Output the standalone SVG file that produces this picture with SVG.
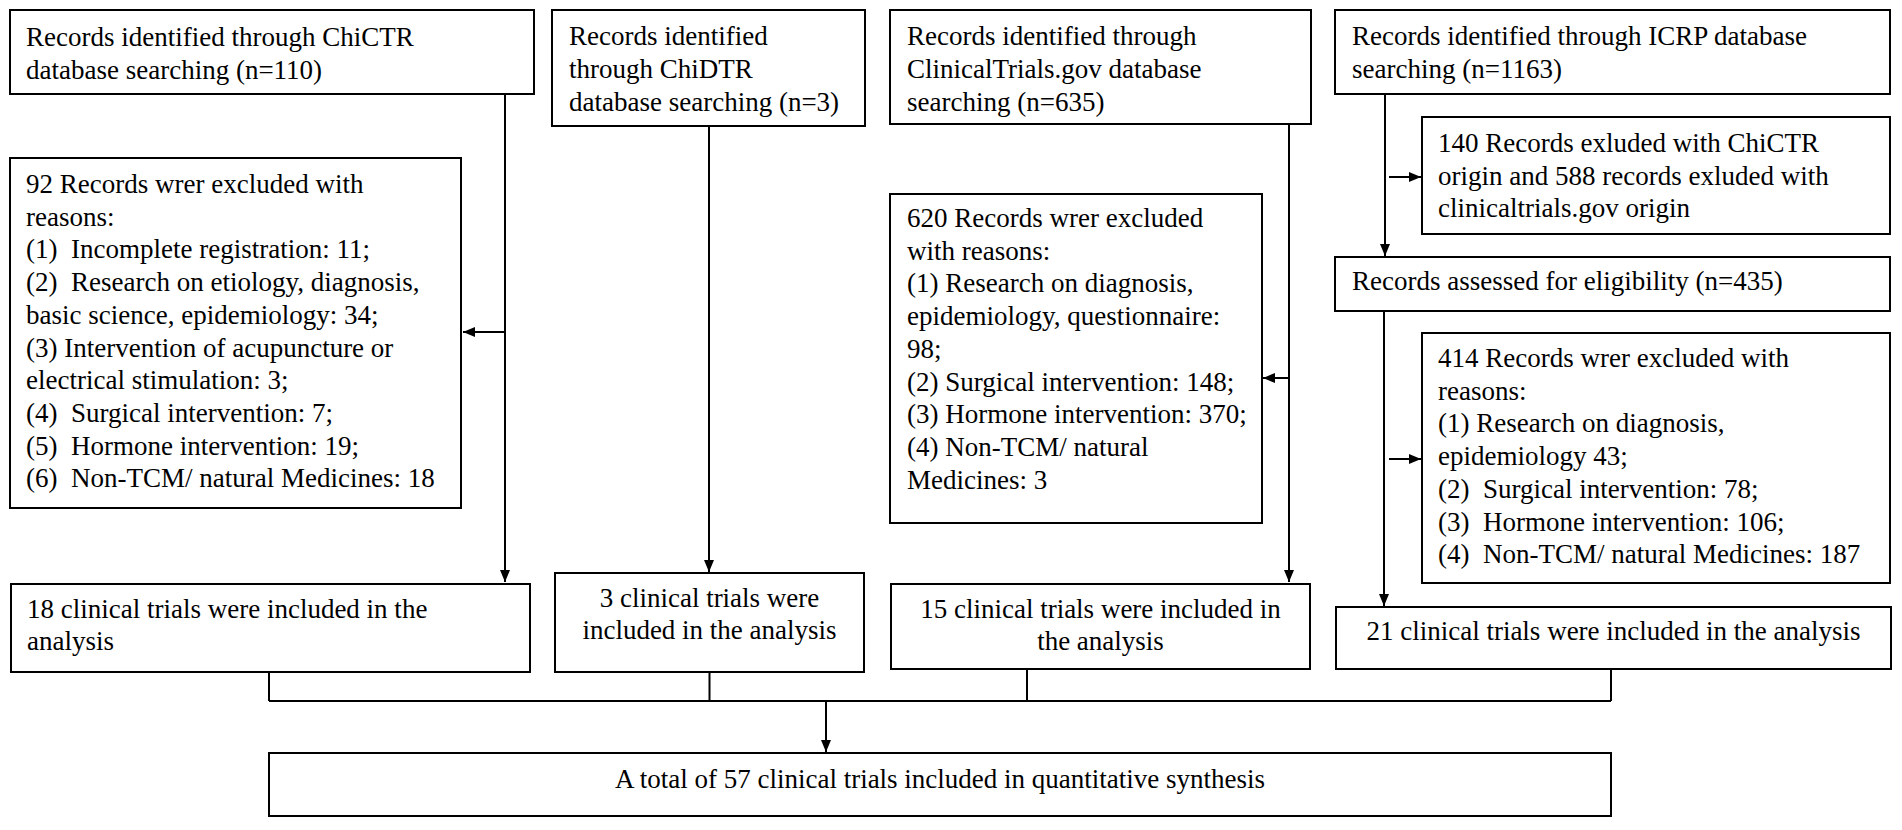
<svg xmlns="http://www.w3.org/2000/svg" width="1902" height="830" viewBox="0 0 1902 830">
<style>
.box{fill:#fff;stroke:#000;stroke-width:2}
.t{font-family:"Liberation Serif","Times New Roman",serif;font-size:27px;fill:#000}
.c{text-anchor:middle}
.ln{fill:none;stroke:#000;stroke-width:2}
</style>
<defs>
<marker id="ah" markerUnits="userSpaceOnUse" markerWidth="13" markerHeight="11" refX="12" refY="5" orient="auto">
<path d="M0,0 L12,5 L0,10 z" fill="#000"/>
</marker>
</defs>
<rect width="1902" height="830" fill="#fff"/>
<g id="connectors">
<path class="ln" d="M505,94 V582" marker-end="url(#ah)"/>
<path class="ln" d="M505,332 H463" marker-end="url(#ah)"/>
<path class="ln" d="M709,126 V572" marker-end="url(#ah)"/>
<path class="ln" d="M1289,124 V582" marker-end="url(#ah)"/>
<path class="ln" d="M1289,378 H1263" marker-end="url(#ah)"/>
<path class="ln" d="M1385,94 V256" marker-end="url(#ah)"/>
<path class="ln" d="M1389,177 H1421" marker-end="url(#ah)"/>
<path class="ln" d="M1384,311 V606" marker-end="url(#ah)"/>
<path class="ln" d="M1389,459 H1421" marker-end="url(#ah)"/>
<path class="ln" d="M269,672 V701 M709.5,672 V701 M1027,669 V701 M1611,669 V701 M269,701 H1611"/>
<path class="ln" d="M826,701 V752" marker-end="url(#ah)"/>
</g>
<g id="chictr">
<rect class="box" x="10" y="10" width="524" height="84"/>
<text class="t"><tspan x="26" y="46">Records identified through ChiCTR</tspan><tspan x="26" y="79">database searching (n=110)</tspan></text>
</g>
<g id="chidtr">
<rect class="box" x="552" y="10" width="313" height="116"/>
<text class="t"><tspan x="569" y="45">Records identified</tspan><tspan x="569" y="78">through ChiDTR</tspan><tspan x="569" y="111">database searching (n=3)</tspan></text>
</g>
<g id="clinicaltrials">
<rect class="box" x="890" y="10" width="421" height="114"/>
<text class="t"><tspan x="907" y="45">Records identified through</tspan><tspan x="907" y="78">ClinicalTrials.gov database</tspan><tspan x="907" y="111">searching (n=635)</tspan></text>
</g>
<g id="icrp">
<rect class="box" x="1335" y="10" width="555" height="84"/>
<text class="t"><tspan x="1352" y="45">Records identified through ICRP database</tspan><tspan x="1352" y="78">searching (n=1163)</tspan></text>
</g>
<g id="excl-chictr">
<rect class="box" x="10" y="158" width="451" height="350"/>
<text class="t" xml:space="preserve"><tspan x="26" y="193">92 Records wrer excluded with</tspan><tspan x="26" y="225.7">reasons:</tspan><tspan x="26" y="258.4">(1)  Incomplete registration: 11;</tspan><tspan x="26" y="291.1">(2)  Research on etiology, diagnosis,</tspan><tspan x="26" y="323.8">basic science, epidemiology: 34;</tspan><tspan x="26" y="356.5">(3) Intervention of acupuncture or</tspan><tspan x="26" y="389.2">electrical stimulation: 3;</tspan><tspan x="26" y="421.9">(4)  Surgical intervention: 7;</tspan><tspan x="26" y="454.6">(5)  Hormone intervention: 19;</tspan><tspan x="26" y="487.3">(6)  Non-TCM/ natural Medicines: 18</tspan></text>
</g>
<g id="excl-clinicaltrials">
<rect class="box" x="890" y="194" width="372" height="329"/>
<text class="t"><tspan x="907" y="227">620 Records wrer excluded</tspan><tspan x="907" y="259.7">with reasons:</tspan><tspan x="907" y="292.4">(1) Research on diagnosis,</tspan><tspan x="907" y="325.1">epidemiology, questionnaire:</tspan><tspan x="907" y="357.8">98;</tspan><tspan x="907" y="390.5">(2) Surgical intervention: 148;</tspan><tspan x="907" y="423.2">(3) Hormone intervention: 370;</tspan><tspan x="907" y="455.9">(4) Non-TCM/ natural</tspan><tspan x="907" y="488.6">Medicines: 3</tspan></text>
</g>
<g id="excl-origin">
<rect class="box" x="1422" y="117" width="468" height="117"/>
<text class="t"><tspan x="1438" y="152">140 Records exluded with ChiCTR</tspan><tspan x="1438" y="184.7">origin and 588 records exluded with</tspan><tspan x="1438" y="217.4">clinicaltrials.gov origin</tspan></text>
</g>
<g id="assessed">
<rect class="box" x="1335" y="257" width="555" height="54"/>
<text class="t"><tspan x="1352" y="290">Records assessed for eligibility (n=435)</tspan></text>
</g>
<g id="excl-icrp">
<rect class="box" x="1422" y="333" width="468" height="250"/>
<text class="t" xml:space="preserve"><tspan x="1438" y="367">414 Records wrer excluded with</tspan><tspan x="1438" y="399.7">reasons:</tspan><tspan x="1438" y="432.4">(1) Research on diagnosis,</tspan><tspan x="1438" y="465.1">epidemiology 43;</tspan><tspan x="1438" y="497.8">(2)  Surgical intervention: 78;</tspan><tspan x="1438" y="530.5">(3)  Hormone intervention: 106;</tspan><tspan x="1438" y="563.2">(4)  Non-TCM/ natural Medicines: 187</tspan></text>
</g>
<g id="incl-chictr">
<rect class="box" x="11" y="584" width="519" height="88"/>
<text class="t"><tspan x="27" y="618">18 clinical trials were included in the</tspan><tspan x="27" y="650">analysis</tspan></text>
</g>
<g id="incl-chidtr">
<rect class="box" x="555" y="573" width="309" height="99"/>
<text class="t c"><tspan x="709.5" y="607">3 clinical trials were</tspan><tspan x="709.5" y="639">included in the analysis</tspan></text>
</g>
<g id="incl-clinicaltrials">
<rect class="box" x="891" y="584" width="419" height="85"/>
<text class="t c"><tspan x="1100.5" y="618">15 clinical trials were included in</tspan><tspan x="1100.5" y="650">the analysis</tspan></text>
</g>
<g id="incl-icrp">
<rect class="box" x="1336" y="607" width="555" height="62"/>
<text class="t c"><tspan x="1613.5" y="640">21 clinical trials were included in the analysis</tspan></text>
</g>
<g id="total">
<rect class="box" x="269" y="753" width="1342" height="63"/>
<text class="t c"><tspan x="940" y="788">A total of 57 clinical trials included in quantitative synthesis</tspan></text>
</g>
</svg>
